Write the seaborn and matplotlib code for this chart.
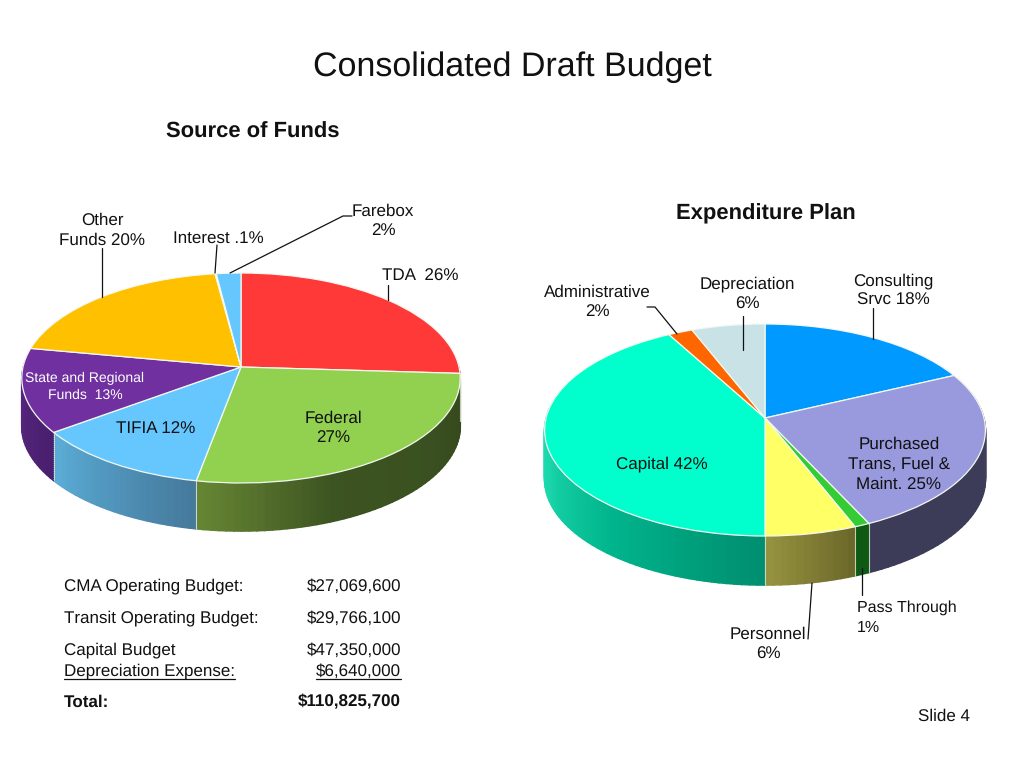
import numpy as np
import seaborn as sns
import matplotlib.pyplot as plt
from matplotlib.transforms import Transform

# Source of Funds (clockwise from the top)
fontes = ['TDA', 'Federal', 'TIFIA', 'State and Regional', 'Other Funds', 'Interest', 'Farebox']
fontes_pct = [26, 27, 12, 13, 20, 0.1, 2]
fontes_cor = ['#FF3838', '#92D050', '#66C7FF', '#7030A0', '#FFC000', '#66C7FF', '#66C7FF']
fontes_lado = [['#8A1F1F', '#8A1F1F'], ['#35471C', '#3A5020', '#3C5421', '#668533'],
               ['#457A9C', '#5BADD8'], ['#4A1F6E', '#5E2A8A'], ['#A07800', '#A07800'],
               ['#4080A0', '#4080A0'], ['#4080A0', '#4080A0']]

# Expenditure Plan (clockwise from the top)
gastos = ['Consulting Srvc', 'Purchased Trans, Fuel & Maint.', 'Pass Through', 'Personnel',
          'Capital', 'Administrative', 'Depreciation']
gastos_pct = [18, 25, 1, 6, 42, 2, 6]
gastos_cor = ['#0099FF', '#9999DD', '#33CC33', '#FFFF66', '#00FFCC', '#FF6600', '#C9E2E6']
gastos_lado = [['#005F9F', '#005F9F'], ['#4B4B6E', '#3C3C58', '#3C3C58'], ['#0E5A14', '#0E5A14'],
               ['#6C682A', '#95923F'], ['#008F70', '#00B48C', '#1DDAAE', '#1DDAAE', '#1DDAAE'],
               ['#A04000', '#A04000'], ['#7F9599', '#7F9599']]

orcamento_nomes = ['CMA Operating Budget:', 'Transit Operating Budget:', 'Capital Budget',
                   'Depreciation Expense:', 'Total:']
orcamento_valores = ['$27,069,600', '$29,766,100', '$47,350,000', '$6,640,000', '$110,825,700']

sns.set_theme(style='white')
plt.rcParams['font.family'] = ['Liberation Sans', 'DejaVu Sans']
plt.rcParams['text.hinting'] = 'no_hinting'
plt.rcParams['text.hinting_factor'] = 1


class Inclinado(Transform):
    # leva o circulo unitario do pie para a elipse em perspectiva (em pixels)
    input_dims = 2
    output_dims = 2

    def __init__(self, cx, cy, a, b, c, queda=0):
        super().__init__()
        self.cx, self.cy, self.a, self.b, self.c, self.queda = cx, cy, a, b, c, queda

    def transform_non_affine(self, values):
        u, v = values[:, 0], values[:, 1]
        p = self.c / self.b
        d = 1 + p * v
        x = self.cx + self.a * u / d
        y = self.cy + self.queda - (self.b * v + self.c) / d
        return np.column_stack([x, y])


def pizza(ax, pct, cores, lados, cx, cy, a, b, c, altura):
    # lateral: varias fatias finas empilhadas para fazer o degrade
    sub_pct = []
    sub_cor = []
    for valor, lado in zip(pct, lados):
        n = max(int(valor * 2), 2)
        sub_pct += [valor / n] * n
        sub_cor += sns.blend_palette(lado, n)
    for queda in range(altura, 0, -2):
        fatias, _ = ax.pie(sub_pct, colors=sub_cor, startangle=90, counterclock=False)
        for f in fatias:
            f.set_edgecolor(f.get_facecolor())
            f.set_linewidth(1.2)
            f.set_transform(Inclinado(cx, cy, a, b, c, queda) + ax.transData)

    # divisoes claras na lateral
    angulos = np.radians(90 - 360 * np.cumsum(pct) / np.sum(pct))
    topo = Inclinado(cx, cy, a, b, c)
    for ang in angulos:
        if np.sin(ang) < -0.05:
            x, y = topo.transform_non_affine(np.array([[np.cos(ang), np.sin(ang)]]))[0]
            ax.plot([x, x], [y, y + altura], color='#E8EEDD', lw=0.8, alpha=0.8, zorder=2)

    fatias, _ = ax.pie(pct, colors=cores, startangle=90, counterclock=False,
                       wedgeprops=dict(linewidth=0.9, edgecolor='#F4F8F0'))
    for f in fatias:
        f.set_transform(topo + ax.transData)
        f.set_zorder(3)


fig = plt.figure(figsize=(10.24, 7.68), dpi=100)
ax = fig.add_axes([0, 0, 1, 1])

pizza(ax, fontes_pct, fontes_cor, fontes_lado, 241, 378, 218, 105, 11, 48)
pizza(ax, gastos_pct, gastos_cor, gastos_lado, 765, 430, 219, 106, 12, 49)

ax.set_aspect('auto')
ax.set_xlim(0, 1024)
ax.set_ylim(768, 0)
ax.set_axis_off()

# linhas de chamada
linhas = [([230, 343, 352], [273, 216, 216]), ([217, 215], [245, 273]), ([102, 102], [248, 297]),
          ([388, 388], [285, 300]), ([647, 655, 677], [307, 307, 334]), ([743, 743], [316, 350]),
          ([873, 873], [308, 339]), ([862, 862], [568, 595]), ([812, 808], [583, 639])]
for xs, ys in linhas:
    ax.plot(xs, ys, color='#111111', lw=0.9, zorder=4)


def texto(x, y, s, size=12.2, ha='center', **kw):
    ax.text(x, y + 1, s, fontsize=size, ha=ha, va='center', color=kw.pop('color', '#111111'), zorder=5, **kw)


texto(512, 66, 'Consolidated Draft Budget', size=24.5)
texto(253, 131, 'Source of Funds', size=16.0, fontweight='bold')
texto(766, 213, 'Expenditure Plan', size=16.0, fontweight='bold')

texto(383, 210, 'Farebox')
texto(383, 230, '2%')
texto(102, 219, 'Other')
texto(102, 239, 'Funds 20%')
texto(218, 237, 'Interest .1%')
texto(420, 275, 'TDA  26%')
texto(85, 377, 'State and Regional', size=10.2, color='white')
texto(85, 394, 'Funds  13%', size=10.2, color='white')
texto(156, 428, 'TIFIA 12%')
texto(333, 417, 'Federal')
texto(333, 437, '27%')

texto(893, 280, 'Consulting')
texto(893, 299, 'Srvc 18%')
texto(747, 283, 'Depreciation')
texto(747, 303, '6%')
texto(597, 291, 'Administrative')
texto(597, 311, '2%')
texto(662, 463, 'Capital 42%')
texto(899, 443, 'Purchased')
texto(899, 463, 'Trans, Fuel &')
texto(899, 483, 'Maint. 25%')
texto(857, 607, 'Pass Through', size=11.2, ha='left')
texto(857, 627, '1%', size=11.2, ha='left')
texto(768, 633, 'Personnel')
texto(768, 653, '6%')

# tabela do orcamento
linhas_y = [585, 617, 649, 670, 701]
for nome, valor, y in zip(orcamento_nomes, orcamento_valores, linhas_y):
    peso = 'bold' if nome == 'Total:' else 'normal'
    texto(64, y, nome, ha='left', fontweight=peso)
    texto(401, y, valor, ha='right', fontweight=peso)
ax.plot([64, 235], [679, 679], color='#111111', lw=0.9)
ax.plot([316, 401], [679, 679], color='#111111', lw=0.9)

texto(970, 715, 'Slide 4', ha='right')

fig.savefig('out.png', dpi=100)
